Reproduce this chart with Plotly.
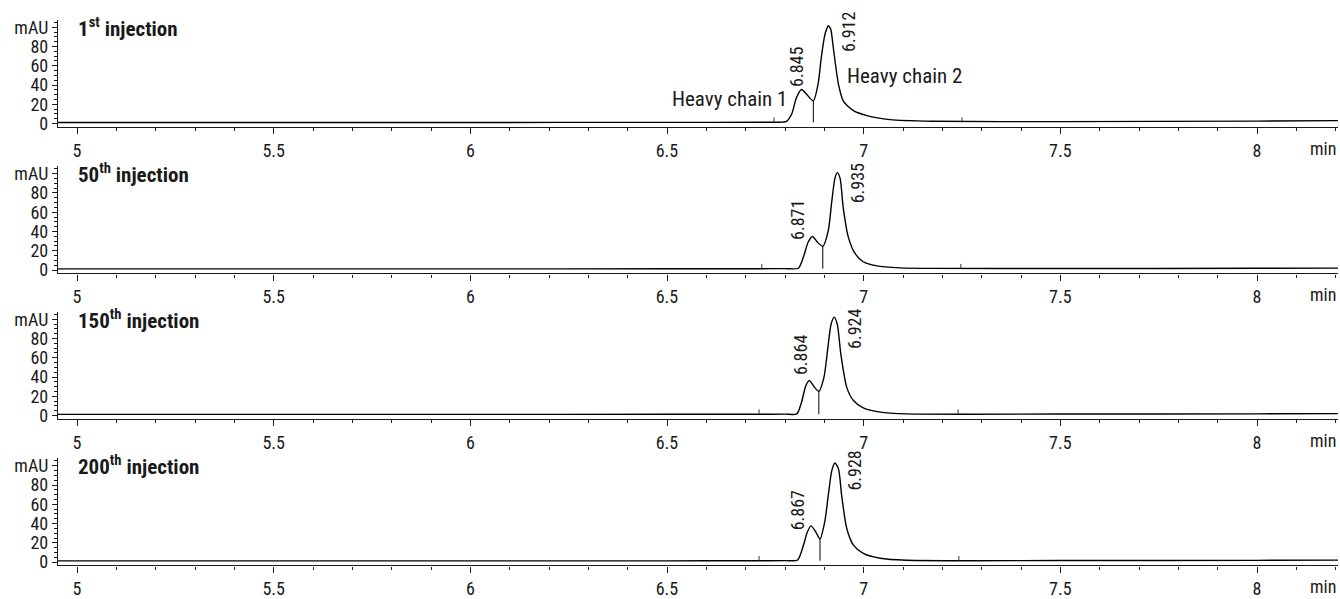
import plotly.graph_objects as go

# ---------------- data ----------------
panel_titles = ["1<sup>st</sup> injection", "50<sup>th</sup> injection",
                "150<sup>th</sup> injection", "200<sup>th</sup> injection"]

t1 = [4.95, 5.5, 6.0, 6.5, 6.77, 6.795, 6.804, 6.817, 6.829, 6.842, 6.855, 6.872,
      6.884, 6.892, 6.901, 6.906, 6.910, 6.916, 6.923, 6.936, 6.948, 6.974, 7.008,
      7.067, 7.176, 7.5, 8.0, 8.21]
s1 = [1.0, 1.0, 1.1, 1.2, 1.3, 1.5, 2.3, 9.9, 26.8, 35.4, 30.3, 23.5,
      40.8, 67.7, 91.5, 98.3, 101.5, 98.3, 77.9, 40.5, 23.5, 13.3, 8.2,
      4.0, 2.3, 2.0, 2.5, 3.0]

t2 = [4.95, 5.5, 6.0, 6.5, 6.74, 6.80, 6.834, 6.847, 6.859, 6.870, 6.882, 6.896,
      6.910, 6.919, 6.927, 6.933, 6.940, 6.948, 6.961, 6.978, 6.999, 7.033, 7.092,
      7.176, 7.5, 8.0, 8.21]
s2 = [1.2, 1.2, 1.2, 1.3, 1.4, 1.5, 1.9, 13.8, 29.1, 34.9, 29.1, 24.7,
      41.0, 71.6, 95.4, 101.2, 95.4, 64.8, 34.2, 17.2, 8.6, 4.3, 2.2,
      1.7, 1.6, 1.8, 2.0]

t3 = [4.95, 5.5, 6.0, 6.5, 6.734, 6.80, 6.830, 6.842, 6.853, 6.862, 6.875, 6.886,
      6.899, 6.909, 6.917, 6.925, 6.933, 6.942, 6.957, 6.974, 6.999, 7.042, 7.109,
      7.5, 8.0, 8.21]
s3 = [1.2, 1.2, 1.2, 1.3, 1.4, 1.5, 1.8, 13.9, 31.1, 36.3, 29.3, 25.2,
      39.7, 70.6, 94.6, 102.2, 94.6, 63.7, 29.3, 15.6, 8.0, 3.6, 1.8,
      1.6, 1.8, 2.0]

t4 = [4.95, 5.5, 6.0, 6.5, 6.734, 6.80, 6.832, 6.847, 6.857, 6.866, 6.878, 6.889,
      6.901, 6.910, 6.919, 6.927, 6.936, 6.944, 6.957, 6.974, 6.999, 7.042, 7.109,
      7.5, 8.0, 8.21]
s4 = [1.2, 1.2, 1.2, 1.3, 1.4, 1.5, 2.2, 17.7, 31.4, 37.6, 31.4, 23.9,
      41.7, 69.2, 95.0, 102.9, 96.8, 69.2, 34.9, 17.7, 9.1, 4.0, 1.9,
      1.6, 1.8, 2.0]

times = [t1, t2, t3, t4]
signals = [s1, s2, s3, s4]

# retention-time labels (peak 1, peak 2)
rt_labels = [("6.845", "6.912"), ("6.871", "6.935"), ("6.864", "6.924"), ("6.867", "6.928")]
# label positions (time, mAU) for peak 1 and peak 2 labels
rt_label_pos = [((6.831, 59), (6.960, 95)), ((6.833, 52), (6.983, 90)),
                ((6.841, 63), (6.978, 90)), ((6.831, 54), (6.978, 95))]

# integration marks: valley (time, mAU), start time, end time
valley = [(6.872, 23.5), (6.896, 24.7), (6.886, 25.2), (6.889, 23.9)]
peak_start = [6.772, 6.741, 6.734, 6.734]
peak_end = [7.250, 7.247, 7.240, 7.242]
baseline_level = [1.3, 1.4, 1.4, 1.4]

x_tickvals = [5, 5.5, 6, 6.5, 7, 7.5, 8]
x_ticktext = ["5", "5.5", "6", "6.5", "7", "7.5", "8"]
y_tickvals = [0, 20, 40, 60, 80, 100]
y_ticktext = ["0", "20", "40", "60", "80", "mAU"]

# ---------------- layout geometry ----------------
W, H = 1340, 599
panel_px = [(17, 126), (166, 275), (314, 423), (463, 572)]  # top, bottom
x_dom = [58 / W, 1338 / W]
X_RANGE = [4.9517, 8.2059]
Y_RANGE = [-3.5, 107.8]

FONT = "Liberation Sans Narrow, Roboto Condensed, DejaVu Sans Condensed, Arial Narrow, sans-serif"
INK = "#1a1a1a"
TICK_SIZE = 18

fig = go.Figure()
layout = dict(
    width=W, height=H,
    margin=dict(l=0, r=0, t=0, b=0),
    paper_bgcolor="white", plot_bgcolor="white",
    showlegend=False,
    font=dict(family=FONT, size=TICK_SIZE, color=INK),
)
annotations = []

for i in range(4):
    n = "" if i == 0 else str(i + 1)
    xa, ya = "x" + n, "y" + n
    top, bot = panel_px[i]
    fig.add_trace(go.Scatter(x=times[i], y=signals[i], xaxis=xa, yaxis=ya, mode="lines",
                             line=dict(color="black", width=1.4, shape="spline", smoothing=0.7),
                             hoverinfo="skip"))
    b = baseline_level[i]
    vt, vv = valley[i]
    # valley drop line
    fig.add_trace(go.Scatter(x=[vt, vt], y=[b, vv], xaxis=xa, yaxis=ya, mode="lines",
                             line=dict(color="black", width=1), hoverinfo="skip"))
    # start / end marks
    for tm in (peak_start[i], peak_end[i]):
        fig.add_trace(go.Scatter(x=[tm, tm], y=[b, b + 5], xaxis=xa, yaxis=ya, mode="lines",
                                 line=dict(color="#333333", width=1), hoverinfo="skip"))

    layout["xaxis" + n] = dict(
        domain=x_dom, anchor=ya, range=X_RANGE,
        showline=True, linecolor=INK, linewidth=1.3, showgrid=False, zeroline=False,
        tickmode="array", tickvals=x_tickvals, ticktext=x_ticktext,
        ticks="outside", ticklen=6, tickcolor=INK, tickwidth=1,
        ticklabelstandoff=1,
        tickfont=dict(family=FONT, size=TICK_SIZE, color=INK),
        minor=dict(dtick=0.1, tick0=5, ticks="outside", ticklen=3, tickcolor=INK, showgrid=False),
    )
    layout["yaxis" + n] = dict(
        domain=[(H - bot) / H, (H - top) / H], anchor=xa, range=Y_RANGE,
        showline=True, linecolor=INK, linewidth=1.3, showgrid=False, zeroline=False,
        tickmode="array", tickvals=y_tickvals, ticktext=y_ticktext,
        ticks="outside", ticklen=5, tickcolor=INK, tickwidth=1,
        tickfont=dict(family=FONT, size=TICK_SIZE, color=INK),
        minor=dict(dtick=5, tick0=0, ticks="outside", ticklen=3, tickcolor=INK, showgrid=False),
    )

    # panel title
    annotations.append(dict(text="<b>" + panel_titles[i] + "</b>", xref=xa + " domain", yref=ya + " domain",
                            x=0.014, y=0.936, xanchor="left", yanchor="middle", showarrow=False,
                            font=dict(family=FONT, size=21, color=INK)))
    # "min" unit label
    annotations.append(dict(text="min", xref=xa, yref=ya + " domain", x=8.167, y=0,
                            xanchor="center", yanchor="top", yshift=-9, showarrow=False,
                            font=dict(family=FONT, size=TICK_SIZE, color=INK)))
    # retention time labels
    for lbl, (lx, ly) in zip(rt_labels[i], rt_label_pos[i]):
        annotations.append(dict(text=lbl, xref=xa, yref=ya, x=lx, y=ly, textangle=-90,
                                xanchor="center", yanchor="middle", showarrow=False,
                                font=dict(family=FONT, size=18, color=INK)))

annotations.append(dict(text="Heavy chain 1", xref="x", yref="y", x=6.660, y=25.5,
                        xanchor="center", yanchor="middle", showarrow=False,
                        font=dict(family=FONT, size=21, color=INK)))
annotations.append(dict(text="Heavy chain 2", xref="x", yref="y", x=7.103, y=49,
                        xanchor="center", yanchor="middle", showarrow=False,
                        font=dict(family=FONT, size=21, color=INK)))

layout["annotations"] = annotations
fig.update_layout(**layout)
fig.write_html("out.html")
